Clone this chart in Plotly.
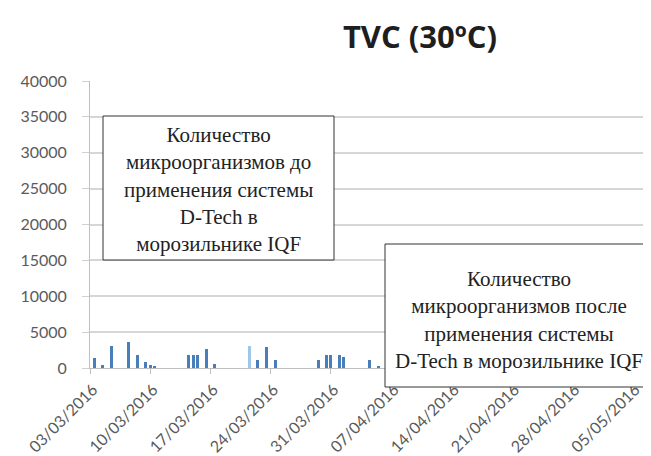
import plotly.graph_objects as go

# ---- data ----
sample_times = [
    "2016-03-03 12:00", "2016-03-04 12:00", "2016-03-05 12:00",
    "2016-03-07 12:00", "2016-03-08 12:00", "2016-03-09 12:00",
    "2016-03-10 00:00", "2016-03-10 12:00",
    "2016-03-14 12:00", "2016-03-15 00:00", "2016-03-15 12:00",
    "2016-03-16 12:00", "2016-03-17 12:00",
    "2016-03-21 12:00", "2016-03-22 12:00", "2016-03-23 12:00",
    "2016-03-24 12:00",
    "2016-03-29 12:00", "2016-03-30 12:00", "2016-03-31 00:00",
    "2016-04-01 00:00", "2016-04-01 12:00",
    "2016-04-04 12:00", "2016-04-05 12:00",
]
tvc_values = [
    1390, 460, 3050,
    3600, 1850, 830,
    460, 280,
    1760, 1760, 1760,
    2590, 600,
    3050, 1060, 2900,
    1060,
    1060, 1850, 1850,
    1760, 1530,
    1100, 250,
]
light_bar_index = 13

title_text = "TVC (30ºC)"
box_before = "Количество<br>микроорганизмов до<br>применения системы<br>D-Tech в<br>морозильнике IQF"
box_after = "Количество<br>микроорганизмов после<br>применения системы<br>D-Tech в морозильнике IQF"

# ---- styling ----
bar_colors = ["#4a7ebb"] * len(tvc_values)
bar_colors[light_bar_index] = "#9fc5e8"

W, H = 651, 456
L, R, T, B = 82, 1, 73, 96
pw, ph = W - L - R, H - T - B

def px_x(px):
    return (px - L) / pw

def px_y(py):
    return (H - B - py) / ph

fig = go.Figure()
fig.add_trace(go.Bar(
    x=sample_times, y=tvc_values,
    marker=dict(color=bar_colors, line=dict(width=0)),
    width=30000000,
    showlegend=False,
))

tick_font = dict(family="Lato", size=16, color="#5a5a5a")

fig.update_layout(
    width=W, height=H,
    margin=dict(l=L, r=R, t=T, b=B),
    paper_bgcolor="white", plot_bgcolor="white",
    title=dict(text=title_text, x=412 / W, xref="container", xanchor="center",
               y=1 - 29 / H, yref="container", yanchor="middle",
               font=dict(family="Open Sans", size=31, color="#1e1e1e", weight="bold")),
    xaxis=dict(
        type="date",
        range=["2016-03-03", "2016-05-08"],
        tick0="2016-03-03", dtick=7 * 86400000,
        tickformat="%d/%m/%Y", tickangle=-45,
        ticks="outside", ticklen=5, tickcolor="#bfbfbf",
        showline=True, linecolor="#bfbfbf", linewidth=1,
        showgrid=False, zeroline=False,
        tickfont=tick_font,
        ticklabelshift=3,
    ),
    yaxis=dict(
        range=[0, 40000], dtick=5000,
        tickformat="d",
        ticks="outside", ticklen=7, tickcolor="#d0d0d0",
        showline=True, linecolor="#bfbfbf", linewidth=1,
        showgrid=True, gridcolor="#d6d6d6", gridwidth=1.5,
        zeroline=False,
        tickfont=tick_font,
        ticklabelstandoff=12,
    ),
    bargap=0,
)

# text boxes
boxes = [
    (95, 326, 108, 252),
    (377, 644, 236, 379),
]
for (x0, x1, y0, y1) in boxes:
    fig.add_shape(type="rect", xref="paper", yref="paper",
                  x0=px_x(x0), x1=px_x(x1), y0=px_y(y1), y1=px_y(y0),
                  line=dict(color="#333333", width=1), fillcolor="white",
                  layer="above")

fig.add_annotation(text=box_before, xref="paper", yref="paper",
                   x=px_x(210.5), y=px_y(181.5), xanchor="center", yanchor="middle",
                   showarrow=False, align="center",
                   font=dict(family="Liberation Serif", size=21, color="#222222"))
fig.add_annotation(text=box_after, xref="paper", yref="paper",
                   x=px_x(510.5), y=px_y(312), xanchor="center", yanchor="middle",
                   showarrow=False, align="center",
                   font=dict(family="Liberation Serif", size=21, color="#222222"))

fig.write_html("out.html")
